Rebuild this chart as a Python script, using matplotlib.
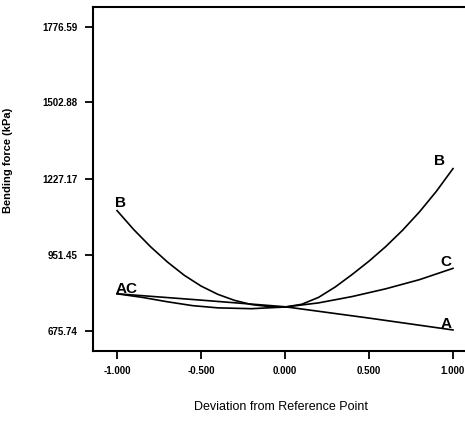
import numpy as np
import matplotlib
matplotlib.use('Agg')
import matplotlib.pyplot as plt

plt.rcParams['font.family'] = ['Liberation Sans', 'DejaVu Sans']

# valori
x_b = [-1.0, -0.9, -0.8, -0.7, -0.6, -0.5, -0.4, -0.3, -0.2, -0.1, 0.0,
       0.1, 0.2, 0.3, 0.4, 0.5, 0.6, 0.7, 0.8, 0.9, 1.0]
curva_b = [1111, 1042, 980, 925, 877, 838, 808, 786, 771, 764, 762,
           772, 797, 835, 880, 928, 981, 1040, 1106, 1180, 1263]

x_a = [-1.0, -0.5, 0.0, 0.5, 1.0]
curva_a = [810, 787, 763, 722, 679]

x_c = [-1.0, -0.85, -0.7, -0.55, -0.4, -0.2, 0.0, 0.2, 0.4, 0.6, 0.8, 1.0]
curva_c = [810, 797, 781, 767, 759, 756, 762, 777, 800, 828, 861, 902]

yticks = [675.74, 951.45, 1227.17, 1502.88, 1776.59]
xticks = [-1.0, -0.5, 0.0, 0.5, 1.0]

fig = plt.figure(figsize=(4.65, 4.28), dpi=100)
ax = fig.add_axes([0.2, 0.18, 0.8215, 0.8037])

for xs, ys in ((x_b, curva_b), (x_a, curva_a), (x_c, curva_c)):
    ax.plot(xs, ys, color='black', lw=1.2)

ax.set_xlim(-1.143, 1.131)
ax.set_ylim(603, 1848)
ax.set_xticks(xticks)
ax.set_xticklabels([f'{v:.3f}' for v in xticks])
ax.set_yticks(yticks)
ax.set_yticklabels([f'{v:.2f}' for v in yticks])
ax.tick_params(direction='out', length=6, width=1.3, labelsize=7,
               pad=5)
for lab in ax.get_xticklabels() + ax.get_yticklabels():
    lab.set_fontweight('bold')
for s in ax.spines.values():
    s.set_linewidth(1.5)
ax.spines['right'].set_visible(False)

ax.set_ylabel('Bending force (kPa)', fontsize=8, fontweight='bold')
ax.yaxis.set_label_coords(-0.209, 0.555)
fig.text(281 / 465, 1 - 407 / 428, 'Deviation from Reference Point',
         fontsize=9, ha='center', va='center')

# etichette delle curve
kw = dict(fontsize=11, fontweight='bold', ha='center', va='center')
ax.text(-0.98, 1140, 'B', **kw)
ax.text(-0.94, 827, 'AC', **kw)
ax.text(0.92, 1290, 'B', **kw)
ax.text(0.96, 925, 'C', **kw)
ax.text(0.96, 700, 'A', **kw)

fig.savefig('out.png', dpi=100)
